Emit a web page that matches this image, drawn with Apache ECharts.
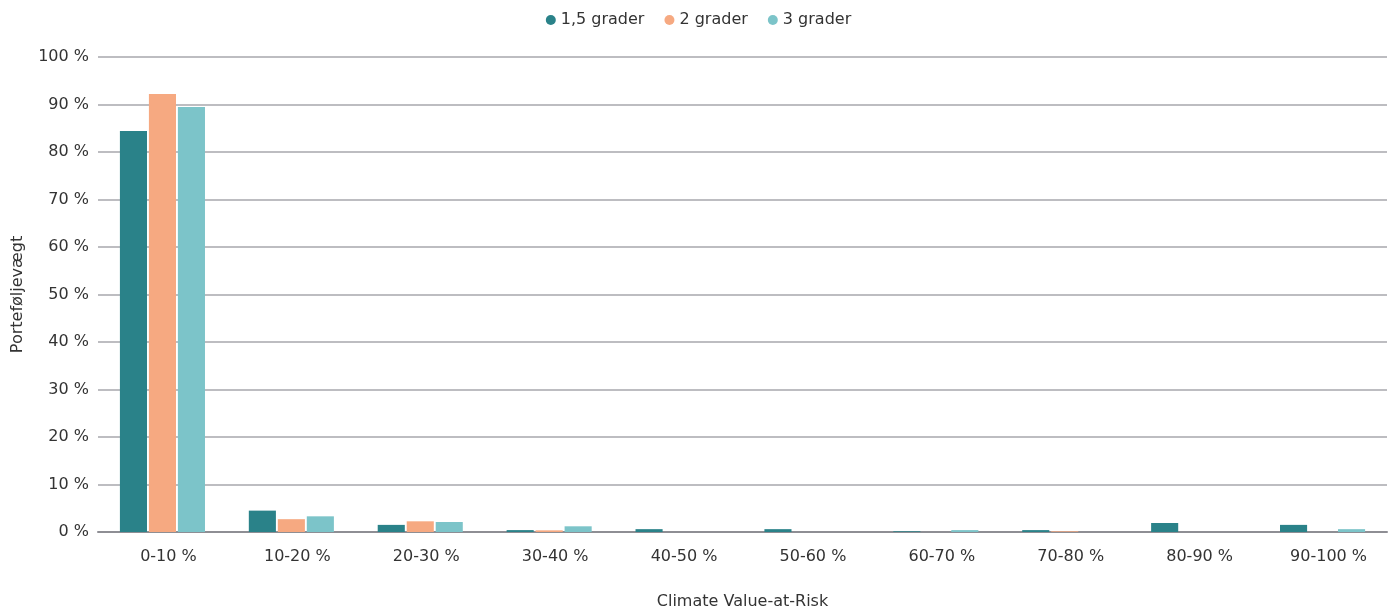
<!DOCTYPE html>
<html><head><meta charset="utf-8">
<script src="https://cdn.jsdelivr.net/npm/echarts@6/dist/echarts.min.js"></script>
<style>html,body{margin:0;padding:0;background:#fff}#c{width:1397px;height:612px}</style>
</head><body><div id="c"></div>
<script>
const categories = ['0-10 %','10-20 %','20-30 %','30-40 %','40-50 %','50-60 %','60-70 %','70-80 %','80-90 %','90-100 %'];
const s15 = [84.4, 4.5, 1.5, 0.4, 0.6, 0.6, 0.15, 0.4, 1.9, 1.5];
const s2  = [92.2, 2.7, 2.25, 0.35, 0, 0, 0, 0.15, 0, 0];
const s3  = [89.5, 3.3, 2.1, 1.2, 0, 0, 0.4, 0, 0, 0.6];
const yTicks = [0,10,20,30,40,50,60,70,80,90,100];
const font = '"DejaVu Sans", "Noto Sans", sans-serif';
const chart = echarts.init(document.getElementById('c'));
const mk = (name, data, color) => ({
  name, type:'bar', data, barGap:'7%', barCategoryGap:'34%',
  itemStyle:{color}
});
chart.setOption({
  animation:false,
  textStyle:{fontFamily:font},
  legend:{top:7, left:'center', itemWidth:10, itemHeight:10, itemGap:20, icon:'circle',
    textStyle:{fontSize:16, color:'#333', fontFamily:font, padding:[0,0,0,0]}},
  grid:{left:98, right:10, top:57, bottom:80, containLabel:false, outerBoundsMode:'none'},
  xAxis:{type:'category', data:categories, name:'Climate Value-at-Risk', nameLocation:'middle', nameGap:62,
    nameTextStyle:{fontSize:16, color:'#333', fontFamily:font},
    axisLine:{lineStyle:{color:'#8e8e94', width:2}}, axisTick:{show:false},
    axisLabel:{fontSize:16, color:'#333', margin:17, padding:[0,0,0,12], fontFamily:font}},
  yAxis:{type:'value', min:0, max:100, interval:10, name:'Porteføljevægt', nameLocation:'middle', nameGap:72,
    nameTextStyle:{fontSize:16, color:'#333', fontFamily:font},
    axisLine:{show:false}, axisTick:{show:false},
    splitLine:{lineStyle:{color:'#a7a7ad', width:1.5}},
    axisLabel:{fontSize:16, color:'#333', margin:9, fontFamily:font,
      formatter:v => yTicks.includes(v) ? v + ' %' : ''}},
  series:[mk('1,5 grader', s15, '#2a8289'), mk('2 grader', s2, '#f6a981'), mk('3 grader', s3, '#7cc4c9')]
});
</script></body></html>
